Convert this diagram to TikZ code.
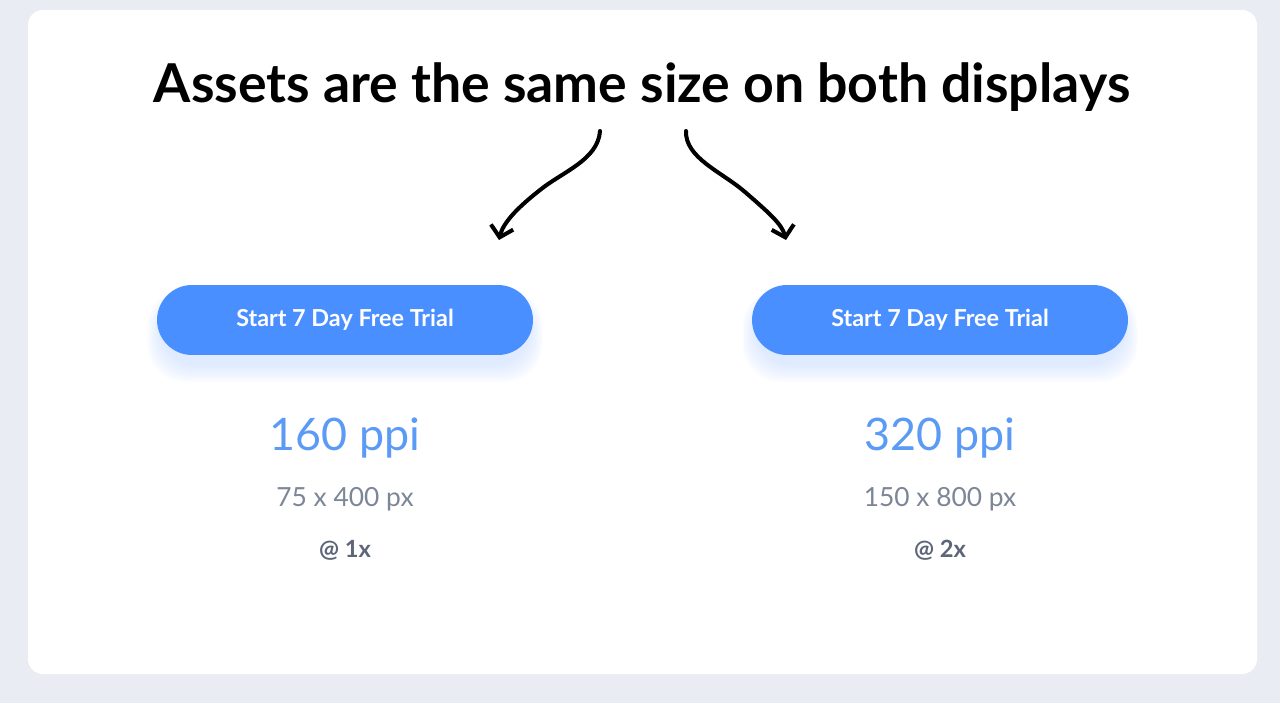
\documentclass[tikz,border=0pt]{standalone}
\usepackage{fontspec}
\setmainfont{Lato}
\usetikzlibrary{positioning,arrows.meta}
\definecolor{pagebg}{HTML}{E9ECF3}
\definecolor{btnblue}{HTML}{4A8FFF}
\definecolor{ppiblue}{HTML}{5B9BF5}
\definecolor{pxgray}{HTML}{7D8696}
\definecolor{scalegray}{HTML}{5D6678}
\tikzset{
  button/.style={fill=btnblue, text=white, rounded corners=0.7cm, minimum width=7.52cm, minimum height=1.4cm, inner sep=0pt, font=\fontsize{13.3}{15}\selectfont\bfseries},
  ppi/.style={anchor=base, text=ppiblue, font=\fontsize{25.5}{30}\selectfont},
  pxsize/.style={anchor=base, text=pxgray, font=\fontsize{15}{18}\selectfont},
  density/.style={anchor=base, text=scalegray, font=\fontsize{13.5}{16}\selectfont\bfseries},
  sketch/.style={line width=2.3pt, line cap=round, line join=round, -{Straight Barb[length=6pt,width=13pt,line width=2.3pt]}}
}
\begin{document}
\begin{tikzpicture}[x=0.02cm,y=-0.02cm]
\useasboundingbox (0,0) rectangle (1280,703);
\fill[pagebg] (0,0) rectangle (1280,703);
\fill[white, rounded corners=0.3cm] (28,10) rectangle (1257,674);
\node[anchor=base, font=\fontsize{30.5}{36}\selectfont\bfseries] (title) at (642,102) {Assets are the same size on both displays};
% soft glow under the buttons
\foreach \x in {345,940}{
  \foreach \i in {1,...,9}{
    \fill[btnblue!60, opacity=0.03, rounded corners=0.75cm] (\x-184-\i*1.5, 298-\i) rectangle (\x+184+\i*1.5, 364+\i*2);
  }
}
\node[button] (b1) at (345,320) {Start 7 Day Free Trial};
\node[button] (b2) at (940,320) {Start 7 Day Free Trial};
\node[ppi] (ppi1) at (345,450) {160 ppi};
\node[ppi] (ppi2) at (940,450) {320 ppi};
\node[pxsize] (px1) at (345,506) {75 x 400 px};
\node[pxsize] (px2) at (940,506) {150 x 800 px};
\node[density] (d1) at (345,557) {@ 1x};
\node[density] (d2) at (940,557) {@ 2x};
% hand drawn arrows
\coordinate (l0) at (600,131);
\coordinate (l1) at (499,240);
\coordinate (r0) at (686,131);
\coordinate (r1) at (786,240);
\draw[sketch] (l0) .. controls (598,160) and (562,172) .. (540,190) .. controls (517,208) and (503,223) .. (l1);
\draw[sketch] (r0) .. controls (685,158) and (722,172) .. (745,192) .. controls (768,212) and (782,224) .. (r1);
\end{tikzpicture}
\end{document}
